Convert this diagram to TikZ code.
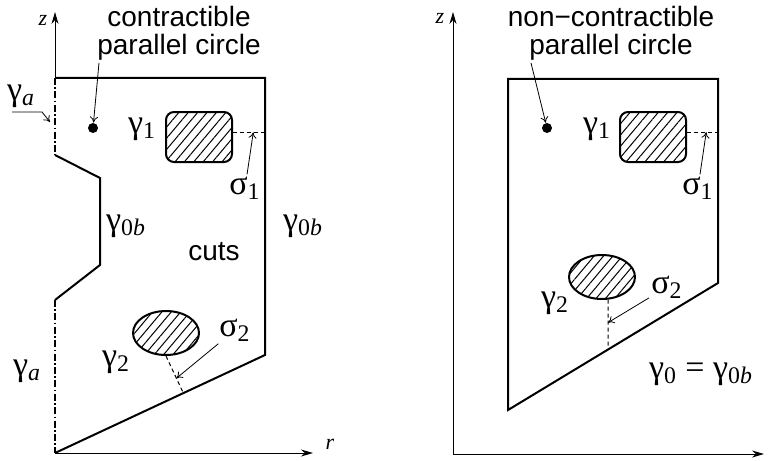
\documentclass[tikz,border=0pt]{standalone}
\usepackage{fontspec}
\setmainfont{Liberation Serif}
\setsansfont{Liberation Sans}
\usepackage{tikz}
\usetikzlibrary{arrows.meta, patterns.meta, shapes.geometric, calc, positioning}
\tikzset{
	wall/.style={line width=1pt, line join=miter},
	dashdotwall/.style={line width=1pt, dash pattern=on 3.5pt off 1.2pt on 0.8pt off 1.2pt},
	cutline/.style={line width=0.5pt, dash pattern=on 2pt off 1.5pt},
	axisline/.style={line width=0.5pt, -{Stealth[length=6pt,width=3.5pt]}},
	pointer/.style={line width=0.4pt, -{To[length=3pt,width=4pt]}}
}
\tikzset{
	hole/.style={draw, line width=1pt, inner sep=0pt, pattern={Lines[angle=50,distance=3.6pt,line width=0.5pt]}},
	dotnode/.style={circle, fill, inner sep=0pt, minimum size=5pt}
}
\tikzset{
	sanstext/.style={font=\sffamily\fontsize{14}{14}\selectfont, inner sep=0pt, align=center},
	greektext/.style={font=\fontsize{17}{20}\selectfont, inner sep=1pt},
	axistext/.style={font=\itshape\fontsize{11}{13}\selectfont}
}

\begin{document}
\begin{tikzpicture}[x=0.5pt, y=-0.5pt]
      \useasboundingbox (0,0) rectangle (780,460);
      % contractible case
      \coordinate (A1) at (55,78);
      \coordinate (B1) at (265,78);
      \coordinate (C1) at (265,355);
      \coordinate (D1) at (55,453);
      \coordinate (E1) at (55,155);
      \coordinate (F1) at (100,178);
      \coordinate (G1) at (100,265);
      \coordinate (H1) at (55,300);
      \coordinate (zt1) at (55,12);
      \coordinate (rt1) at (313,453);
      \draw[axisline] (A1) -- (zt1);
      \draw[axisline] (D1) -- (rt1);
      \node[axistext] (z1) at (43,20) {z};
      \node[axistext] (r1) at (330,444) {r};
      \draw[wall] (A1) -- (B1) -- (C1) -- (D1);
      \draw[wall] (E1) -- (F1) -- (G1) -- (H1);
      \draw[dashdotwall] (A1) -- (E1);
      \draw[dashdotwall] (H1) -- (D1);

      \node[sanstext, anchor=north] (pc1) at (179,6) {contractible\\parallel circle};
      \node[dotnode] (dot1) at (93,128) {};
      \draw[pointer] ([xshift=-40pt,yshift=-1pt]pc1.south) -- (dot1);

      \node[greektext] (ga1) at (21,96) {γ\textsubscript{\textit{a}}};
      \coordinate (gat) at (12,112);
      \coordinate (gah) at (50,122);
      \draw[pointer] (gat) -- ++(30,0) -- (gah);
      \node[greektext] (ga2) at (27,371) {γ\textsubscript{\textit{a}}};
      \node[greektext] (g0b1) at (126,226) {γ\textsubscript{0\textit{b}}};
      \node[greektext] (g0b2) at (303,226) {γ\textsubscript{0\textit{b}}};
      \node[sanstext] (cuts) at (214,252) {cuts};

      \node[hole, rounded corners=4pt, minimum width=33pt, minimum height=25pt] (h1) at (199,137) {};
      \node[greektext] (g11) at (142,129) {γ\textsubscript{1}};
      \draw[cutline] (h1.8) -- (h1.8 -| C1);
      \node[greektext] (s11) at (245,188) {σ\textsubscript{1}};
      \draw[pointer] (s11) -- ($(h1.8)!0.64!(h1.8 -| C1)$);

      \node[hole, ellipse, minimum width=33pt, minimum height=22pt] (h2) at (166,333) {};
      \node[greektext] (g21) at (116,362) {γ\textsubscript{2}};
      \coordinate (k2) at ($(C1)!(h2.south)!(D1)$);
      \draw[cutline] (h2.south) -- (k2);
      \node[greektext] (s21) at (235,330) {σ\textsubscript{2}};
      \draw[pointer] (s21) -- ($(h2.south)!0.6!(k2)$);

      % non-contractible case
      \coordinate (A2) at (508,79);
      \coordinate (B2) at (718,79);
      \coordinate (C2) at (718,283);
      \coordinate (D2) at (508,410);
      \coordinate (O2) at (453,454);
      \coordinate (zt2) at (453,12);
      \coordinate (rt2) at (764,454);
      \draw[axisline] (O2) -- (zt2);
      \draw[axisline] (O2) -- (rt2);
      \node[axistext] (z2) at (440,18) {z};
      \draw[wall] (A2) -- (B2) -- (C2) -- (D2) -- cycle;

      \node[sanstext, anchor=north] (pc2) at (611,6) {non−contractible\\parallel circle};
      \node[dotnode] (dot2) at (547,128) {};
      \draw[pointer] ([xshift=-40pt,yshift=-1pt]pc2.south) -- (dot2);

      \node[hole, rounded corners=4pt, minimum width=33pt, minimum height=25pt] (h3) at (653,137) {};
      \node[greektext] (g12) at (597,129) {γ\textsubscript{1}};
      \draw[cutline] (h3.8) -- (h3.8 -| C2);
      \node[greektext] (s12) at (698,188) {σ\textsubscript{1}};
      \draw[pointer] (s12) -- ($(h3.8)!0.62!(h3.8 -| C2)$);

      \node[hole, ellipse, minimum width=33pt, minimum height=22pt] (h4) at (602,277) {};
      \node[greektext] (g22) at (555,303) {γ\textsubscript{2}};
      \coordinate (k4) at (intersection cs: first line={(h4.-75)--($(h4.-75)+(0,50)$)}, second line={(C2)--(D2)});
      \draw[cutline] (h4.-75) -- (k4);
      \node[greektext] (s22) at (667,287) {σ\textsubscript{2}};
      \draw[pointer] (s22) -- ($(h4.-75)!0.46!(k4)$);
      \node[greektext] (g0) at (701,374) {γ\textsubscript{0} = γ\textsubscript{0\textit{b}}};
    \end{tikzpicture}
\end{document}
